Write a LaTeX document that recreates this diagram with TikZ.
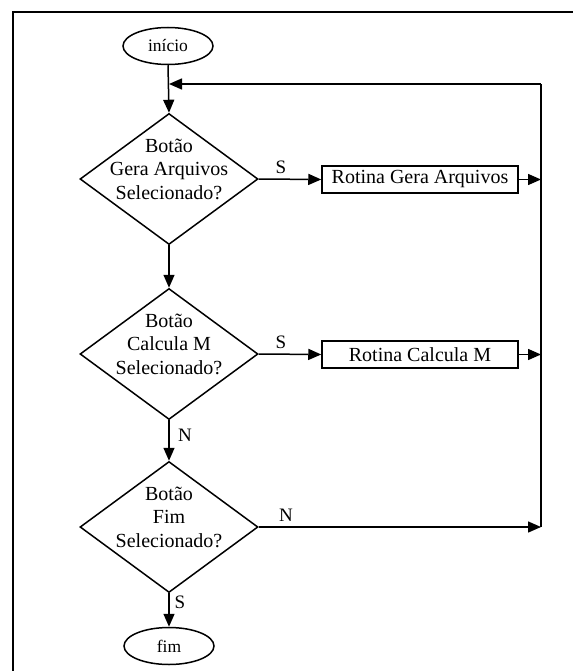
\documentclass[tikz,border=0pt]{standalone}
\usepackage{fontspec}
\setmainfont{Liberation Serif}
\usetikzlibrary{shapes.geometric,arrows.meta}
\begin{document}
\begin{tikzpicture}[x=1pt,y=-1pt,
  conn/.style={line width=1.5pt},
  arr/.style={conn,-{Triangle[length=13pt,width=11pt]}},
  decision/.style={draw,diamond,line width=1.5pt,inner sep=0pt,
    minimum width=178pt,minimum height=131pt},
  dectext/.style={align=center,inner sep=0pt,font=\fontsize{20}{23.5}\selectfont},
  terminal/.style={draw,ellipse,line width=1.5pt,inner sep=0pt,
    minimum width=90pt,minimum height=37pt,font=\fontsize{17.5}{20}\selectfont},
  routine/.style={draw,rectangle,line width=1.5pt,inner sep=0pt,
    minimum width=196pt,minimum height=27pt,font=\fontsize{20}{23.5}\selectfont},
  branch/.style={inner sep=0pt,font=\fontsize{19}{21}\selectfont}]

\useasboundingbox (0,0) rectangle (573,671);
\fill[white] (0,0) rectangle (573,671);

% page frame (open on the right and bottom)
\draw[line width=2pt] (13,671) -- (13,12.5) -- (573,12.5);

% terminals
\node[terminal] (ini) at (168,46) {início};
\node[terminal] (fim) at (169,646) {fim};

% decisions
\node[decision] (d1) at (169,179) {};
\node[dectext] (t1) at (169,169) {Botão\\Gera Arquivos\\Selecionado?};
\node[decision] (d2) at (169,354) {};
\node[dectext] (t2) at (169,344) {Botão\\Calcula M\\Selecionado?};
\node[decision] (d3) at (169,527) {};
\node[dectext] (t3) at (169,517) {Botão\\Fim\\Selecionado?};

% routines
\node[routine] (b1) at (420,179.5) {Rotina Gera Arquivos};
\node[routine] (b2) at (420,354.5) {Rotina Calcula M};

% return loop
\coordinate (loopTop) at (541,84);
\coordinate (loopBot) at (541,527);
\coordinate (join) at (169,84);

% main flow
\draw[arr] (ini.south) -- (d1.north);
\draw[arr] (d1.south) -- (d2.north);
\draw[arr] (d2.south) -- (d3.north);
\draw[arr] (d3.south) -- (fim.north);

% yes branches
\draw[arr] (d1.east) -- (b1.west);
\draw[arr] (d2.east) -- (b2.west);
\draw[arr] (b1.east) -- (b1.east -| loopTop);
\draw[arr] (b2.east) -- (b2.east -| loopTop);

% end "no" branch and return
\draw[arr] (d3.east) -- (loopBot);
\draw[conn] (loopBot) -- (loopTop);
\draw[arr] (loopTop) -- (join);

% branch labels
\node[branch] (s1) at (281,167) {S};
\node[branch] (s2) at (281,342) {S};
\node[branch] (n2) at (185,435) {N};
\node[branch] (n3) at (286,515) {N};
\node[branch] (s3) at (180,602) {S};
\end{tikzpicture}
\end{document}
